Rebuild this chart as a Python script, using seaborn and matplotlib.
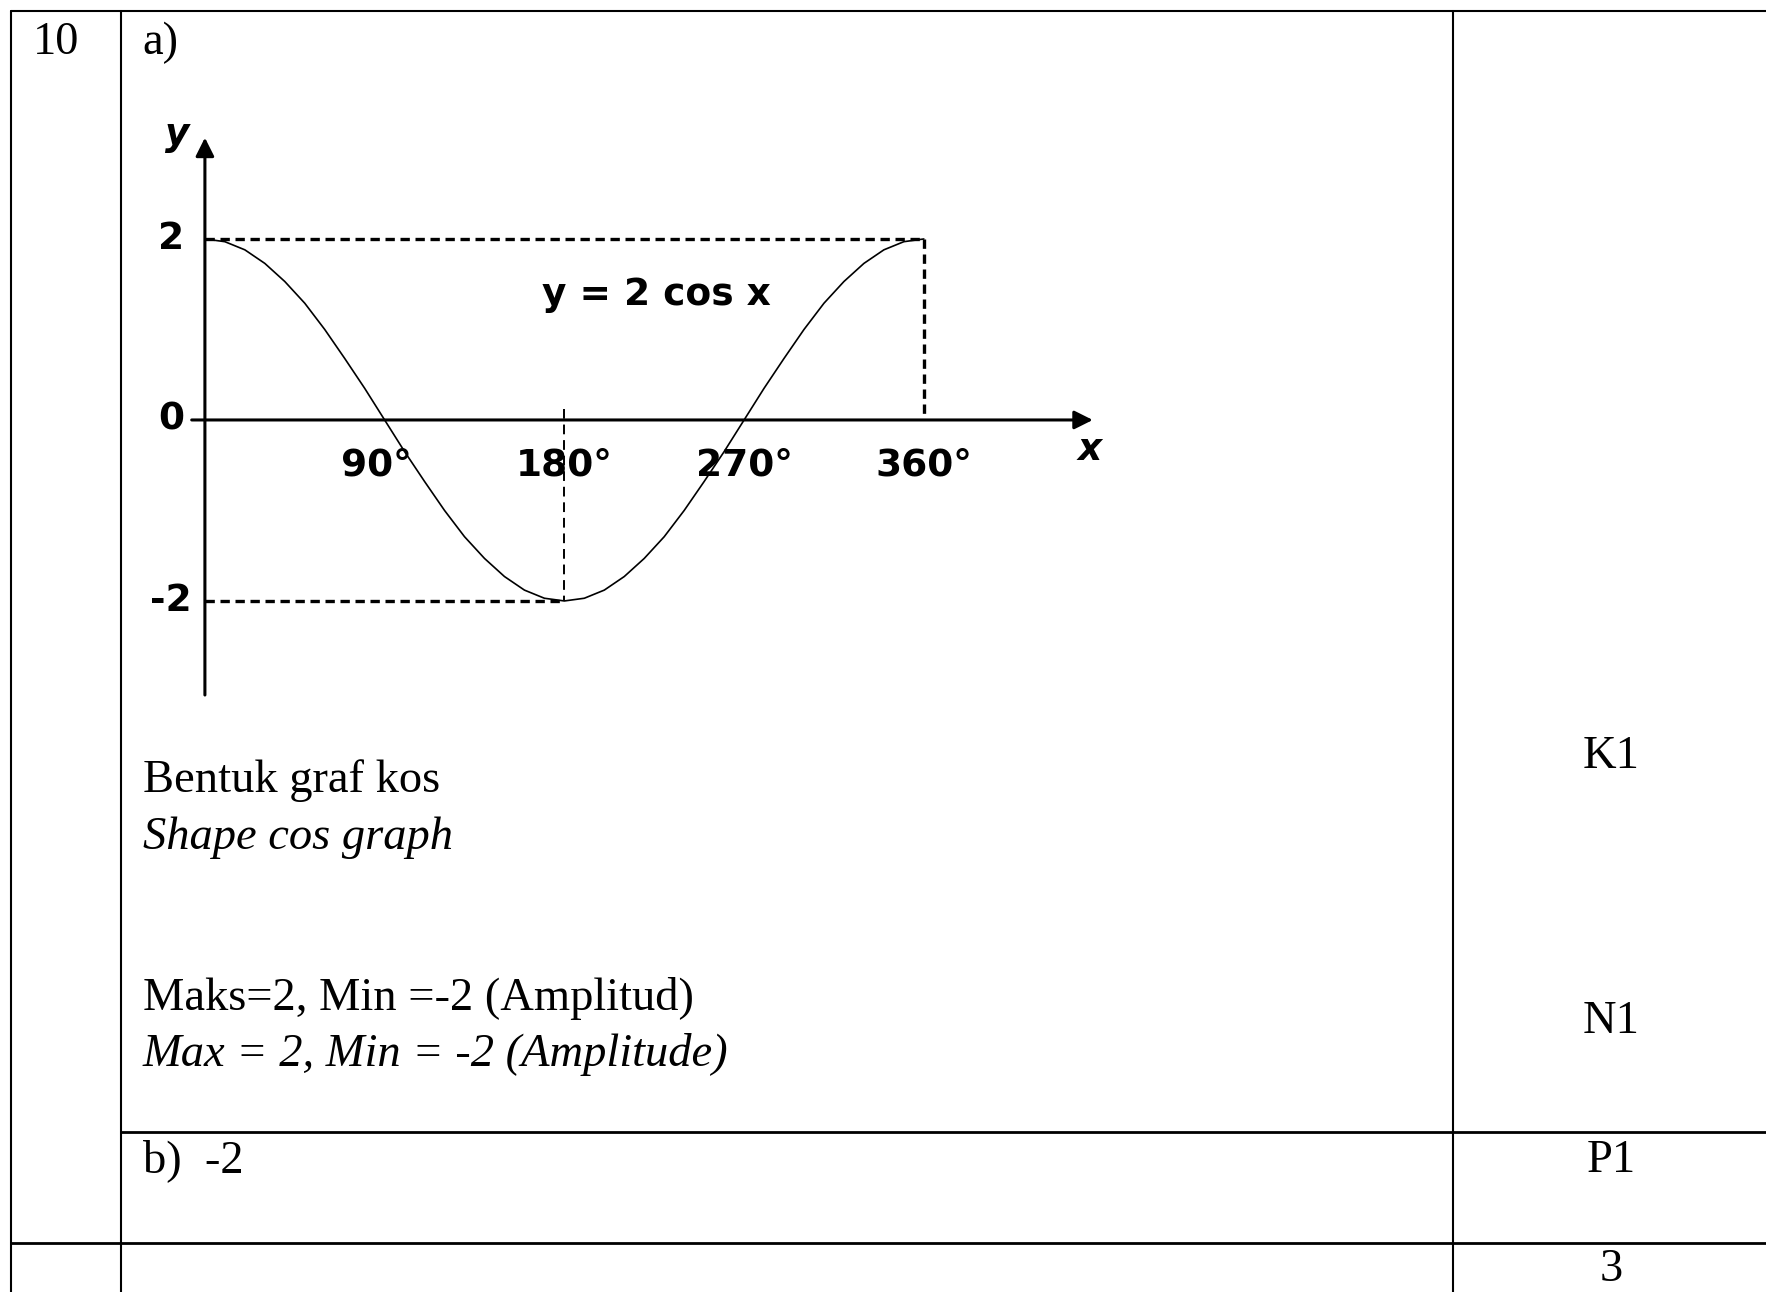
import seaborn as sns
import matplotlib.pyplot as plt

# curve y = 2 cos x, every 10 degrees
deg = [0, 10, 20, 30, 40, 50, 60, 70, 80, 90, 100, 110, 120, 130, 140, 150, 160, 170, 180,
       190, 200, 210, 220, 230, 240, 250, 260, 270, 280, 290, 300, 310, 320, 330, 340, 350, 360]
yval = [2.00, 1.97, 1.88, 1.73, 1.53, 1.29, 1.00, 0.68, 0.35, 0.00,
        -0.35, -0.68, -1.00, -1.29, -1.53, -1.73, -1.88, -1.97, -2.00,
        -1.97, -1.88, -1.73, -1.53, -1.29, -1.00, -0.68, -0.35, 0.00,
        0.35, 0.68, 1.00, 1.29, 1.53, 1.73, 1.88, 1.97, 2.00]

xtick_pos = [90, 180, 270, 360]
xtick_lab = ["90°", "180°", "270°", "360°"]
ytick_pos = [2, 0, -2]
ytick_lab = ["2", "0", "-2"]

marks = ["K1", "N1", "P1", "3"]

sns.set_style("white")
plt.rcParams["font.family"] = ["Liberation Serif", "DejaVu Serif"]
plt.rcParams["text.color"] = "black"

W, H = 1766, 1292
fig = plt.figure(figsize=(W / 100, H / 100), dpi=100)

# table frame, in pixel coordinates
tab = fig.add_axes([0, 0, 1, 1])
tab.set_xlim(0, W)
tab.set_ylim(H, 0)
tab.axis("off")
lk = dict(color="black", lw=1.5)
tab.plot([11, W], [11, 11], **lk)
tab.plot([11, 11], [11, H], **lk)
tab.plot([121, 121], [11, H], **lk)
tab.plot([1453, 1453], [11, H], **lk)
tab.plot([121, W], [1132, 1132], color="black", lw=2)
tab.plot([11, W], [1243, 1243], color="black", lw=2)

fs = 33.5
tab.text(33, 43, "10", fontsize=fs, va="center")
tab.text(142, 43, "a)", fontsize=fs, va="center")
tab.text(143, 781, "Bentuk graf kos", fontsize=fs, va="center")
tab.text(143, 838, "Shape cos graph", fontsize=fs, va="center", style="italic")
tab.text(143, 998, "Maks=2, Min =-2 (Amplitud)", fontsize=fs, va="center")
tab.text(143, 1054, "Max = 2, Min = -2 (Amplitude)", fontsize=fs, va="center", style="italic")
tab.text(143, 1161, "b)  -2", fontsize=fs, va="center")
for m, yy in zip(marks, [757, 1022, 1161, 1270]):
    tab.text(1611, yy, m, fontsize=fs, va="center", ha="center")

# the sketch itself
ax = fig.add_axes([0.0708, 0.4368, 0.5767, 0.4763])
ax.patch.set_alpha(0)
ax.set_xlim(-40, 470)
ax.set_ylim(-3.4, 3.4)
ax.axis("off")

sns.lineplot(x=deg, y=yval, ax=ax, color="black", lw=1.2)

dash = dict(color="black", lw=2.4, ls=(0, (2.8, 1.7)))
ax.plot([0, 360], [2, 2], **dash)
ax.plot([360, 360], [2, 0], **dash)
ax.plot([0, 180], [-2, -2], **dash)
ax.plot([180, 180], [0.12, -2], color="black", lw=1.4, ls=(0, (5, 3)))

arr = dict(arrowstyle="-|>", lw=2.2, color="black", mutation_scale=28)
ax.annotate("", xy=(0, 3.15), xytext=(0, -3.07), arrowprops=arr)
ax.annotate("", xy=(446, 0), xytext=(-8, 0), arrowprops=arr)

gk = dict(fontsize=27, fontweight="bold", family="DejaVu Sans", va="center", ha="center")
for p, lab in zip(xtick_pos, xtick_lab):
    ax.text(p - 4 if p == 90 else p, -0.5, lab, **gk)
for p, lab in zip(ytick_pos, ytick_lab):
    ax.text(-17, p, lab, **gk)
ax.text(-14, 3.15, "y", **gk, style="italic")
ax.text(443, -0.33, "x", **gk, style="italic")
ax.text(226, 1.38, "y = 2 cos x", **gk)

fig.savefig("out.png", dpi=100)
